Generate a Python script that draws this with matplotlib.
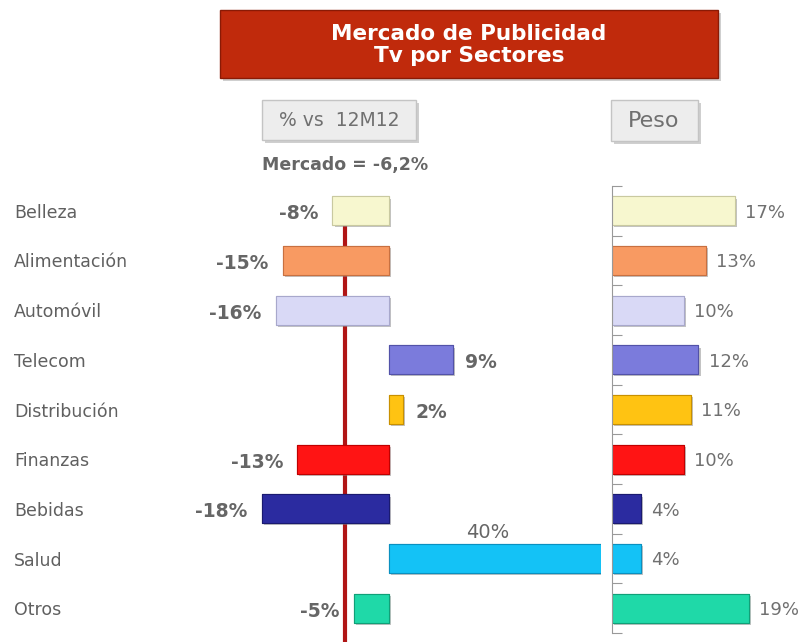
import matplotlib
matplotlib.use("Agg")
import matplotlib.pyplot as plt
import matplotlib.patheffects as pe
from matplotlib.patches import FancyBboxPatch
from matplotlib.transforms import blended_transform_factory

# ---------------------------------------------------------------------------
# Data
# ---------------------------------------------------------------------------
sectors = ["Belleza", "Alimentación", "Automóvil", "Telecom", "Distribución",
           "Finanzas", "Bebidas", "Salud", "Otros"]
var_vs_12m12 = [-8, -15, -16, 9, 2, -13, -18, 40, -5]   # % vs 12M12
peso = [17, 13, 10, 12, 11, 10, 4, 4, 19]                # share, %
mercado = -6.2

colors = ["#f7f7cf", "#f89a62", "#d9d9f6", "#7b7bdc", "#ffc312",
          "#ff1414", "#2b2ba0", "#14c2f6", "#1fd9a8"]
edges = ["#c9c9a0", "#c87040", "#a8a8cc", "#5252a8", "#c89000",
         "#c00000", "#1a1a70", "#0a90c0", "#10a078"]

W, H = 799, 642
TXT = "#666666"


def fx(px):
    return px / W


def fy(py):
    # pixel y measured from top
    return 1 - py / H


def box(fig, x0, y0, x1, y1, face, edge, shadow=True, lw=1.0):
    if shadow:
        fig.patches.append(FancyBboxPatch(
            (fx(x0 + 3), fy(y1 + 3)), fx(x1 - x0), (y1 - y0) / H,
            boxstyle="square,pad=0", transform=fig.transFigure,
            facecolor="#b0b0b0", edgecolor="none", alpha=0.6, zorder=1))
    fig.patches.append(FancyBboxPatch(
        (fx(x0), fy(y1)), fx(x1 - x0), (y1 - y0) / H,
        boxstyle="square,pad=0", transform=fig.transFigure,
        facecolor=face, edgecolor=edge, linewidth=lw, zorder=2))


fig = plt.figure(figsize=(W / 100, H / 100), dpi=100)

# Title banner
box(fig, 220, 10, 718, 78, "#c02a0c", "#8a1a05")
fig.text(fx(469), fy(45), "Mercado de Publicidad\nTv por Sectores",
         ha="center", va="center", color="white", fontsize=15.5,
         fontweight="bold", linespacing=1.1, zorder=3)

# Header buttons
box(fig, 262, 100, 416, 140, "#ededed", "#c4c4c4")
fig.text(fx(339), fy(121), "% vs  12M12", ha="center", va="center",
         color="#707070", fontsize=13.5, zorder=3)
box(fig, 611, 100, 698, 141, "#ededed", "#c4c4c4")
fig.text(fx(654), fy(121), "Peso", ha="center", va="center",
         color="#707070", fontsize=16, zorder=3)

fig.text(fx(262), fy(165), "Mercado = -6,2%", ha="left", va="center",
         color=TXT, fontsize=12.5, fontweight="bold")

shadow = [pe.withSimplePatchShadow(offset=(1.5, -1.5), shadow_rgbFace="#888888",
                                   alpha=0.5), pe.Normal()]
rows = list(range(len(sectors)))
bar_h = 0.58

# ---------------------------------------------------------------------------
# Left panel: % vs 12M12
# ---------------------------------------------------------------------------
axl = fig.add_axes([fx(230), fy(642), fx(601 - 230), (642 - 186) / H])
axl.set_xlim(-22.5, 30)
axl.set_ylim(8.68, -0.5)
axl.axis("off")

axl.vlines(mercado, 0, 8.68, color="#b01515", linewidth=3, zorder=1)
bars = axl.barh(rows, var_vs_12m12, height=bar_h, color=colors,
                edgecolor=edges, linewidth=0.8, zorder=2)
for b in bars:
    b.set_path_effects(shadow)

xmax = axl.get_xlim()[1]
for r, v in zip(rows, var_vs_12m12):
    if v > xmax:
        axl.text(xmax / 2 - 1, r - 0.52, f"{v}%", ha="center", va="center",
                 color=TXT, fontsize=14)
    elif v < 0:
        axl.text(v - 2.0, r + 0.06, f"{v}%", ha="right", va="center",
                 color=TXT, fontsize=13.5, fontweight="bold")
    else:
        axl.text(v + 1.8, r + 0.06, f"{v}%", ha="left", va="center",
                 color=TXT, fontsize=13.5, fontweight="bold")

# category labels at fixed figure x
trans = blended_transform_factory(fig.transFigure, axl.transData)
for r, name in zip(rows, sectors):
    axl.text(fx(14), r + 0.04, name, transform=trans, ha="left", va="center",
             color="#606060", fontsize=12.5)

# ---------------------------------------------------------------------------
# Right panel: Peso
# ---------------------------------------------------------------------------
axr = fig.add_axes([fx(612), fy(633), fx(790 - 612), (633 - 186) / H])
axr.set_xlim(0, 24.7)
axr.set_ylim(8.5, -0.5)
axr.set_facecolor("none")
for s in ["top", "right", "bottom"]:
    axr.spines[s].set_visible(False)
axr.spines["left"].set_color("#999999")
axr.set_xticks([])
axr.set_yticks([i - 0.5 for i in range(len(sectors) + 1)])
axr.set_yticklabels([])
axr.tick_params(axis="y", direction="in", length=7, color="#999999")

bars = axr.barh(rows, peso, height=bar_h, color=colors, edgecolor=edges,
                linewidth=0.8, zorder=2)
for b in bars:
    b.set_path_effects(shadow)
for r, v in zip(rows, peso):
    axr.text(v + 1.4, r + 0.04, f"{v}%", ha="left", va="center",
             color="#707070", fontsize=13)

fig.savefig("out.png", dpi=100)
